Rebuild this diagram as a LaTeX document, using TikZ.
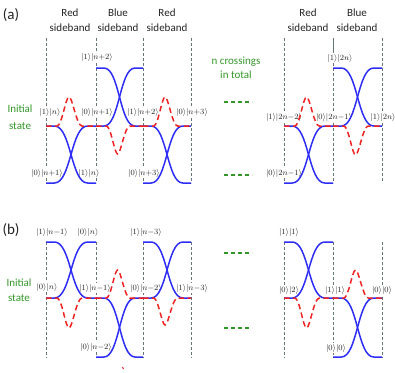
\documentclass[tikz,border=0pt]{standalone}
\usepackage{fontspec}
\setmainfont{Carlito}
\definecolor{cblue}{RGB}{45,45,245}
\definecolor{cred}{RGB}{240,35,35}
\definecolor{cgreen}{RGB}{50,150,40}
\definecolor{cgray}{RGB}{100,118,118}
\definecolor{ctext}{RGB}{35,35,35}
\newcommand{\sigc}[4]{\draw[bl] (#1,#3) -- ({#1+0.17*(#2-#1)},#3) .. controls ({#1+0.5*(#2-#1)},#3) and ({#1+0.5*(#2-#1)},#4) .. ({#1+0.83*(#2-#1)},#4) -- (#2,#4);}
\newcommand{\xing}[4]{\sigc{#1}{#2}{#3}{#4}\sigc{#1}{#2}{#4}{#3}}
\newcommand{\bump}[4]{\draw[rd] (#1,#3) -- ({#1+0.22*(#2-#1)},#3) .. controls ({#1+0.32*(#2-#1)},#3) and ({#1+0.39*(#2-#1)},#4) .. ({#1+0.46*(#2-#1)},#4) .. controls ({#1+0.53*(#2-#1)},#4) and ({#1+0.61*(#2-#1)},#3) .. ({#1+0.72*(#2-#1)},#3) -- (#2,#3);}
\begin{document}
\begin{tikzpicture}[x=1pt,y=-1pt,
  bl/.style={draw=cblue, line width=1.5pt},
  rd/.style={draw=cred, line width=1.5pt, dash pattern=on 5.5pt off 3.5pt},
  vl/.style={draw=cgray, line width=1pt, dash pattern=on 2.5pt off 2.5pt},
  gd/.style={draw=cgreen, line width=1.6pt, dash pattern=on 4pt off 3pt},
  ket/.style={text=ctext, fill=white, font=\fontsize{7.6}{8}\selectfont, inner sep=0.8pt},
  ttl/.style={text=ctext, font=\fontsize{11}{15}\selectfont, align=center, inner sep=0pt},
  gtext/.style={text=cgreen, font=\fontsize{11}{15}\selectfont, align=center, inner sep=0pt},
  plab/.style={text=ctext, font=\rmfamily\fontsize{15}{15}\selectfont, inner sep=0pt}]
\useasboundingbox (0,0) rectangle (395,372);
% ---------- panel (a) ----------
\node[plab] (pa) at (11,15) {(a)};
\foreach \x in {46,96,143,191,284,333,382} \draw[vl] (\x,38) -- (\x,183);
\draw[cgray, line width=1pt] (333,40) -- (333,56);
\node[ttl] (ta1) at (70,20) {Red\\sideband};
\node[ttl] (ta2) at (118,20) {Blue\\sideband};
\node[ttl] (ta3) at (167,20) {Red\\sideband};
\node[ttl] (ta4) at (308,20) {Red\\sideband};
\node[ttl] (ta5) at (357,20) {Blue\\sideband};
\node[gtext, font=\fontsize{11}{17}\selectfont] (ia) at (20,117) {Initial\\state};
\node[gtext, font=\fontsize{11}{14}\selectfont] (nc) at (236,68) {n crossings\\in total};
\draw[gd] (224,102) -- (252,102);
\draw[gd] (224,175) -- (252,175);
\node[ket] (a1) at (50,112) {$|1\rangle|n\rangle$};
\node[ket] (a2) at (97,112) {$|0\rangle|n{+}1\rangle$};
\node[ket] (a3) at (97,57) {$|1\rangle|n{+}2\rangle$};
\node[ket] (a4) at (143,112) {$|1\rangle|n{+}2\rangle$};
\node[ket] (a5) at (192,112) {$|0\rangle|n{+}3\rangle$};
\node[ket] (a6) at (47,173) {$|0\rangle|n{+}1\rangle$};
\node[ket] (a7) at (89,173) {$|1\rangle|n\rangle$};
\node[ket] (a8) at (144,173) {$|0\rangle|n{+}3\rangle$};
\node[ket] (a9) at (340,58) {$|1\rangle|2n\rangle$};
\node[ket] (a10) at (284,117) {$|1\rangle|2n{-}2\rangle$};
\node[ket] (a11) at (334,117) {$|0\rangle|2n{-}1\rangle$};
\node[ket] (a12) at (383,117) {$|1\rangle|2n\rangle$};
\node[ket] (a13) at (284,173) {$|0\rangle|2n{-}1\rangle$};
\xing{46}{96}{126}{183}
\xing{96}{143}{126}{68}
\xing{143}{191}{126}{183}
\xing{284}{333}{126}{183}
\xing{333}{382}{126}{68}
\bump{46}{96}{126}{97}
\bump{96}{143}{126}{154}
\bump{143}{191}{126}{97}
\bump{284}{333}{126}{97}
\bump{333}{382}{126}{155}
% ---------- panel (b) ----------
\node[plab] (pb) at (11,230) {(b)};
\foreach \x in {46,96,143,191,284,333,382} \draw[vl] (\x,242) -- (\x,358);
\node[gtext, font=\fontsize{11}{15}\selectfont] (ib) at (19,290) {Initial\\state};
\draw[gd] (224,253) -- (252,253);
\draw[gd] (224,328) -- (252,328);
\node[ket] (b1) at (52,232) {$|1\rangle|n{-}1\rangle$};
\node[ket] (b2) at (88,232) {$|0\rangle|n\rangle$};
\node[ket] (b3) at (146,232) {$|1\rangle|n{-}3\rangle$};
\node[ket] (b4) at (47,287) {$|0\rangle|n\rangle$};
\node[ket] (b5) at (95,288) {$|1\rangle|n{-}1\rangle$};
\node[ket] (b6) at (146,288) {$|0\rangle|n{-}2\rangle$};
\node[ket] (b7) at (192,288) {$|1\rangle|n{-}3\rangle$};
\node[ket] (b8) at (96,347) {$|0\rangle|n{-}2\rangle$};
\node[ket] (b9) at (289,232) {$|1\rangle|1\rangle$};
\node[ket] (b10) at (289,290) {$|0\rangle|2\rangle$};
\node[ket] (b11) at (335,290) {$|1\rangle|1\rangle$};
\node[ket] (b12) at (382,290) {$|0\rangle|0\rangle$};
\node[ket] (b13) at (336,348) {$|0\rangle|0\rangle$};
\xing{46}{96}{242}{298}
\xing{96}{143}{298}{357}
\xing{143}{191}{242}{298}
\xing{284}{333}{242}{298}
\xing{333}{382}{298}{357}
\bump{46}{96}{298}{328}
\bump{96}{143}{298}{270}
\bump{143}{191}{298}{325}
\bump{284}{333}{298}{328}
\bump{333}{382}{298}{270}
\draw[cred, line width=1pt] (122.5,367) -- (123.5,369);
\end{tikzpicture}
\end{document}
